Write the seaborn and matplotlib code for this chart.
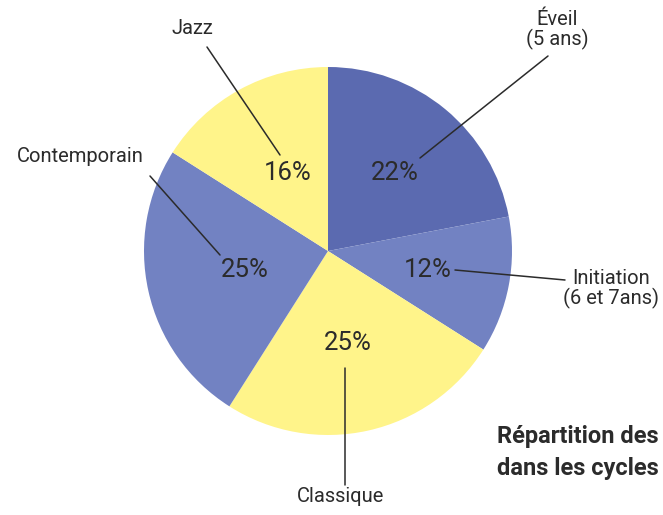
import matplotlib
matplotlib.use("Agg")
import matplotlib.pyplot as plt
import seaborn as sns

sns.set_theme(style="white")
plt.rcParams['font.family'] = ['Roboto', 'DejaVu Sans']

categories = ["Éveil\n(5 ans)", "Initiation\n(6 et 7ans)", "Classique", "Contemporain", "Jazz"]
values = [22, 12, 25, 25, 16]
pct_labels = ["22%", "12%", "25%", "25%", "16%"]
colors = ["#5b6ab0", "#7282c2", "#fff48a", "#7282c2", "#fff48a"]

W, H = 663, 515
fig = plt.figure(figsize=(W / 100, H / 100), dpi=100)
ax = fig.add_axes([0, 0, 1, 1])

cx, cy, r = 328, H - 251, 184
ax.pie(values, colors=colors, startangle=90, counterclock=False,
       center=(cx, cy), radius=r, frame=True,
       wedgeprops=dict(linewidth=0))
ax.set_xlim(0, W)
ax.set_ylim(0, H)
ax.set_aspect("equal")
ax.axis("off")

def Y(y):
    return H - y

# percentage labels (image coords)
pct_pos = [(395, 173), (428, 270), (348, 343), (245, 270), (288, 173)]
for (x, y), t in zip(pct_pos, pct_labels):
    ax.text(x, Y(y), t, fontsize=18.5, color="#2b2b2b",
            ha="center", va="center")

# leader lines
lines = [((420, 158), (548, 56)),
         ((455, 270), (565, 280)),
         ((345, 368), (345, 485)),
         ((220, 255), (150, 176)),
         ((280, 155), (207, 47))]
for (x0, y0), (x1, y1) in lines:
    ax.plot([x0, x1], [Y(y0), Y(y1)], color="#2b2b2b", lw=1.1)

cat_pos = [(557, 30), (611, 289), (341, 497), (80, 157), (192, 28)]
for (x, y), t in zip(cat_pos, categories):
    ax.text(x, Y(y), t, fontsize=14.5, color="#2b2b2b",
            ha="center", va="center", linespacing=1.0)

ax.text(497, Y(437), "Répartition des", fontsize=17, fontweight="bold",
        color="#2b2b2b", ha="left", va="center")
ax.text(497, Y(468), "dans les cycles", fontsize=17, fontweight="bold",
        color="#2b2b2b", ha="left", va="center")

fig.savefig("out.png", dpi=100)
